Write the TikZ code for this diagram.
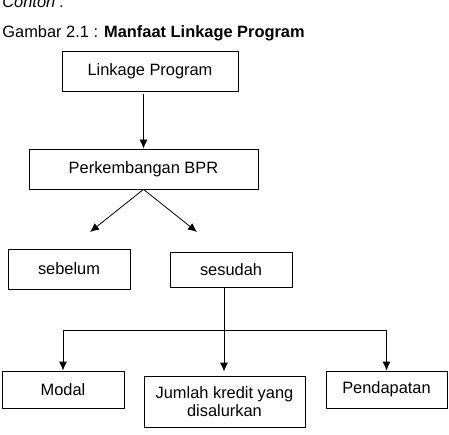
\documentclass[tikz,border=0pt]{standalone}
\usepackage{fontspec}
\setmainfont{Liberation Sans}
\usepackage{tikz}
\usetikzlibrary{arrows.meta, calc, positioning}

\begin{document}
\begin{tikzpicture}[x=1pt, y=-1pt, line width=0.8pt,
    panah/.style={-{Latex[length=9pt, width=8pt]}},
    every node/.style={font=\fontsize{16.4}{18.5}\selectfont},
    kotak/.style={draw, inner sep=0pt, align=center}]
                \useasboundingbox (0,0) rectangle (449,435);
                \node[anchor=base west, inner sep=0pt, font=\fontsize{16.4}{18.5}\selectfont\itshape] (contoh) at (2,8) {Contoh :};
                \node[anchor=base west, inner sep=0pt] (judul) at (2,38) {Gambar 2.1 : \textbf{Manfaat Linkage Program}};
                \node[kotak, minimum width=176, minimum height=40] (linkage) at (150,71) {Linkage Program};
                \node[kotak, minimum width=229, minimum height=40] (bpr) at (143.5,169) {Perkembangan BPR};
                \node[kotak, minimum width=122, minimum height=40] (sebelum) at (69,269) {sebelum};
                \node[kotak, minimum width=122, minimum height=35] (sesudah) at (231,269.5) {sesudah};
                \node[kotak, minimum width=122, minimum height=37] (modal) at (63,389.5) {Modal};
                \node[kotak, minimum width=161, minimum height=51] (kredit) at (224.5,401.5) {Jumlah kredit yang\\disalurkan};
                \node[kotak, minimum width=121, minimum height=37] (pendapatan) at (386.5,389.5) {Pendapatan};
                \coordinate (kiri) at (90,232);
                \coordinate (kanan) at (197,232);
                \coordinate (cabang) at (224,330);
                \draw[panah] ($(linkage.south -| bpr.north)+(0,3)$) -- (bpr.north);
                \draw[panah] (bpr.south) -- (kiri);
                \draw[panah] (bpr.south) -- (kanan);
                \draw[panah] (sesudah.south -| cabang) -- ($(kredit.north -| cabang)+(0,-4)$);
                \draw[panah] (cabang) -| (modal.north);
                \draw[panah] (cabang) -| (pendapatan.north);
            \end{tikzpicture}
\end{document}
